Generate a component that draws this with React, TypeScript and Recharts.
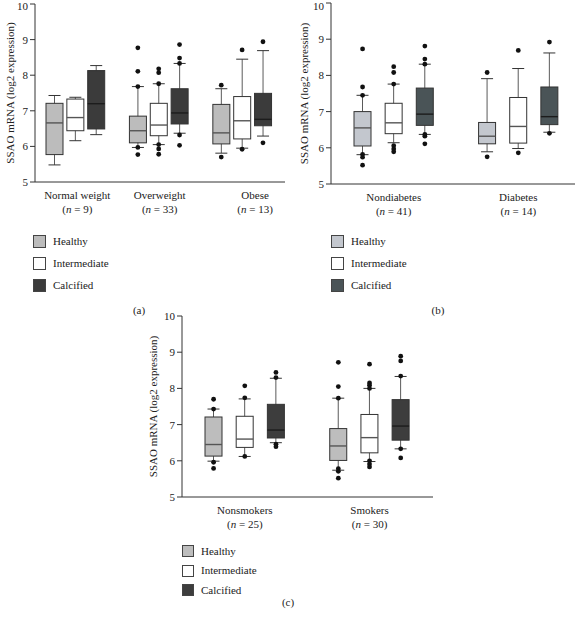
import React from 'react';
import { ComposedChart, Bar, Scatter, XAxis, YAxis } from 'recharts';

const serif = "'Liberation Serif', 'Times New Roman', serif";

const tissues = ['Healthy', 'Intermediate', 'Calcified'];
const yTicks = [5, 6, 7, 8, 9, 10];
const yLabel = 'SSAO mRNA (log2 expression)';

// every box: [low whisker, Q1, median, Q3, high whisker], one per group

// (a) BMI
const bmiGroups = ['Normal weight', 'Overweight', 'Obese'];
const bmiN = [9, 33, 13];
const bmiHealthy = [[5.48, 5.77, 6.66, 7.21, 7.43], [5.97, 6.1, 6.44, 6.85, 7.68], [5.81, 6.07, 6.38, 7.18, 7.62]];
const bmiIntermediate = [[6.16, 6.44, 6.81, 7.33, 7.38], [6.05, 6.3, 6.6, 7.21, 7.76], [5.95, 6.21, 6.72, 7.4, 8.45]];
const bmiCalcified = [[6.33, 6.49, 7.2, 8.13, 8.27], [6.37, 6.63, 6.94, 7.62, 8.33], [6.29, 6.58, 6.76, 7.49, 8.69]];
const bmiHealthyOut = [[], [8.77, 8.11, 7.68, 5.97, 5.77], [7.72, 5.7]];
const bmiIntermediateOut = [[], [8.18, 8.07, 7.76, 6.05, 5.93, 5.78], [8.71, 5.92]];
const bmiCalcifiedOut = [[], [8.86, 8.48, 8.33, 6.32, 6.03], [8.94, 6.1]];

// (b) diabetes
const diabGroups = ['Nondiabetes', 'Diabetes'];
const diabN = [41, 14];
const diabHealthy = [[5.81, 6.05, 6.55, 7.0, 7.45], [5.89, 6.11, 6.32, 6.7, 7.91]];
const diabIntermediate = [[6.14, 6.39, 6.69, 7.23, 7.76], [5.98, 6.13, 6.59, 7.39, 8.19]];
const diabCalcified = [[6.37, 6.62, 6.93, 7.65, 8.31], [6.43, 6.64, 6.86, 7.68, 8.62]];
const diabHealthyOut = [[8.73, 7.68, 7.45, 5.82, 5.74, 5.52], [8.08, 5.75]];
const diabIntermediateOut = [[8.24, 8.08, 7.76, 6.06, 5.97, 5.89], [8.69, 5.86]];
const diabCalcifiedOut = [[8.81, 8.45, 8.31, 6.37, 6.32, 6.11], [8.92, 6.4]];

// (c) smoking
const smokeGroups = ['Nonsmokers', 'Smokers'];
const smokeN = [25, 30];
const smokeHealthy = [[5.99, 6.13, 6.45, 7.21, 7.43], [5.74, 6.01, 6.41, 6.89, 7.73]];
const smokeIntermediate = [[6.12, 6.37, 6.6, 7.23, 7.71], [5.98, 6.22, 6.64, 7.28, 8.0]];
const smokeCalcified = [[6.5, 6.63, 6.85, 7.56, 8.28], [6.33, 6.57, 6.96, 7.69, 8.33]];
const smokeHealthyOut = [[7.7, 7.43, 5.96, 5.79], [8.72, 8.05, 7.73, 5.78, 5.71, 5.52]];
const smokeIntermediateOut = [[8.07, 7.74, 6.12], [8.67, 8.15, 8.09, 8.0, 6.0, 5.91, 5.83]];
const smokeCalcifiedOut = [[8.44, 8.3, 6.46, 6.39], [8.89, 8.76, 8.34, 6.33, 6.08]];

const outKeys = ['o0', 'o1', 'o2', 'o3', 'o4', 'o5', 'o6'];

function buildRows(groups: string[], stats: number[][][], outliers: number[][][]) {
  const rows: any[] = [];
  groups.forEach((g, gi) => {
    if (gi > 0) rows.push({ key: `gap${gi}` });
    tissues.forEach((t, ti) => {
      const s = stats[ti][gi];
      const row: any = { key: `${g}|${t}`, tissue: ti, stats: s, whisker: [s[0], s[4]] };
      outliers[ti][gi].forEach((v, k) => {
        row[outKeys[k]] = v;
      });
      rows.push(row);
    });
  });
  return rows;
}

const makeBoxShape = (fills: string[]) => (props: any) => {
  const { x, y, width, height, payload } = props;
  if (!payload || !payload.stats) return <g />;
  const [lo, q1, med, q3, hi] = payload.stats;
  const top = Math.min(y, y + height);
  const h = Math.abs(height);
  const py = (v: number) => top + ((hi - v) / (hi - lo)) * h;
  const cx = x + width / 2;
  const cap = 6;
  const t = payload.tissue;
  const medStroke = t === 2 ? '#1c1c1c' : '#555';
  return (
    <g>
      <line x1={cx} x2={cx} y1={py(hi)} y2={py(lo)} stroke="#5a5a5a" strokeWidth={1} />
      <line x1={cx - cap} x2={cx + cap} y1={py(hi)} y2={py(hi)} stroke="#333" strokeWidth={1} />
      <line x1={cx - cap} x2={cx + cap} y1={py(lo)} y2={py(lo)} stroke="#333" strokeWidth={1} />
      <rect x={x} y={py(q3)} width={width} height={py(q1) - py(q3)} fill={fills[t]} stroke="#333" strokeWidth={1} />
      <line x1={x} x2={x + width} y1={py(med)} y2={py(med)} stroke={medStroke} strokeWidth={1.4} />
    </g>
  );
};

const GroupTick = (props: any) => {
  const { x, y, payload, groups, n, dx } = props;
  const gi = groups.findIndex((g: string) => payload.value === `${g}|Intermediate`);
  if (gi < 0) return <g />;
  const tx = x + dx[gi];
  return (
    <g fontFamily={serif} fontSize={11} fill="#222">
      <text x={tx} y={y + 17} textAnchor="middle">{groups[gi]}</text>
      <text x={tx} y={y + 31} textAnchor="middle">
        (<tspan fontStyle="italic">n</tspan> = {n[gi]})
      </text>
    </g>
  );
};

function BoxPanel(p: any) {
  const rows = buildRows(p.groups, p.stats, p.outliers);
  const BoxShape = makeBoxShape(p.fills);
  return (
    <ComposedChart width={p.width} height={p.height} data={rows} margin={p.margin}>
      <XAxis
        dataKey="key"
        type="category"
        interval={0}
        tickLine={false}
        tickSize={0}
        tickMargin={0}
        padding={p.padding}
        axisLine={{ stroke: '#333' }}
        height={40}
        tick={<GroupTick groups={p.groups} n={p.n} dx={p.dx} />}
      />
      <YAxis
        domain={[5, 10]}
        ticks={yTicks}
        width={p.yAxisWidth}
        tickSize={5}
        tickMargin={2}
        axisLine={{ stroke: '#333' }}
        tickLine={{ stroke: '#333' }}
        tick={{ fontSize: 11, fontFamily: serif, fill: '#222' }}
        label={{
          value: yLabel,
          angle: -90,
          position: 'insideLeft',
          offset: p.labelOffset,
          style: { textAnchor: 'middle', fontSize: 11, fontFamily: serif, fill: '#222' },
        }}
      />
      <Bar dataKey="whisker" barSize={17} isAnimationActive={false} shape={BoxShape} />
      {outKeys.map((k) => (
        <Scatter
          key={k}
          dataKey={k}
          isAnimationActive={false}
          shape={(s: any) =>
            s.payload == null || s.payload[k] == null || s.cy == null || isNaN(s.cy) ? (
              <g />
            ) : (
              <circle cx={s.cx} cy={s.cy} r={2.4} fill="#111" />
            )
          }
        />
      ))}
    </ComposedChart>
  );
}

function TissueLegend({ left, top, gap, size, fills }: any) {
  return (
    <>
      {tissues.map((t, i) => (
        <div
          key={t}
          style={{ position: 'absolute', left, top: top + i * gap, height: size, display: 'flex', alignItems: 'center' }}
        >
          <div style={{ width: size, height: size, boxSizing: 'border-box', border: '1px solid #444', background: fills[i] }} />
          <span style={{ marginLeft: 7, fontSize: 11, color: '#222', lineHeight: 1 }}>{t}</span>
        </div>
      ))}
    </>
  );
}

const Caption = ({ x, y, text }: any) => (
  <div style={{ position: 'absolute', left: x, top: y, transform: 'translate(-50%, -50%)', fontSize: 11, color: '#222' }}>
    {text}
  </div>
);

const fillsA = ['#bcbcbc', '#ffffff', '#3b3b3b'];
const fillsB = ['#c3c7ce', '#ffffff', '#4a5457'];
const fillsC = ['#bdbdbd', '#ffffff', '#3d3d3d'];

export default function App() {
  return (
    <div style={{ position: 'absolute', left: 0, top: 0, width: 582, height: 617, background: '#fff', fontFamily: serif }}>
      <div style={{ position: 'absolute', left: 0, top: 0 }}>
        <BoxPanel
          width={300}
          height={226}
          margin={{ top: 4, right: 15, bottom: 4, left: 0 }}
          yAxisWidth={35}
          labelOffset={10}
          padding={{ left: 9, right: 11.6 }}
          groups={bmiGroups}
          n={bmiN}
          stats={[bmiHealthy, bmiIntermediate, bmiCalcified]}
          outliers={[bmiHealthyOut, bmiIntermediateOut, bmiCalcifiedOut]}
          fills={fillsA}
          dx={[2, 1, 13]}
        />
      </div>
      <div style={{ position: 'absolute', left: 290, top: 0 }}>
        <BoxPanel
          width={292}
          height={228}
          margin={{ top: 3, right: 7, bottom: 4, left: 0 }}
          yAxisWidth={41}
          labelOffset={14}
          padding={{ left: 16, right: 10 }}
          groups={diabGroups}
          n={diabN}
          stats={[diabHealthy, diabIntermediate, diabCalcified]}
          outliers={[diabHealthyOut, diabIntermediateOut, diabCalcifiedOut]}
          fills={fillsB}
          dx={[0, 0]}
        />
      </div>
      <div style={{ position: 'absolute', left: 130, top: 300 }}>
        <BoxPanel
          width={310}
          height={241}
          margin={{ top: 16, right: 7, bottom: 4, left: 0 }}
          yAxisWidth={52}
          labelOffset={23.5}
          padding={{ left: 16, right: 16.7 }}
          groups={smokeGroups}
          n={smokeN}
          stats={[smokeHealthy, smokeIntermediate, smokeCalcified]}
          outliers={[smokeHealthyOut, smokeIntermediateOut, smokeCalcifiedOut]}
          fills={fillsC}
          dx={[0, 0]}
        />
      </div>
      <TissueLegend left={33} top={234.5} gap={22} size={13} fills={fillsA} />
      <TissueLegend left={331} top={234.5} gap={22} size={13} fills={fillsB} />
      <TissueLegend left={182} top={545} gap={19.5} size={12} fills={fillsC} />
      <Caption x={139} y={310} text="(a)" />
      <Caption x={438} y={310} text="(b)" />
      <Caption x={288} y={602} text="(c)" />
    </div>
  );
}
